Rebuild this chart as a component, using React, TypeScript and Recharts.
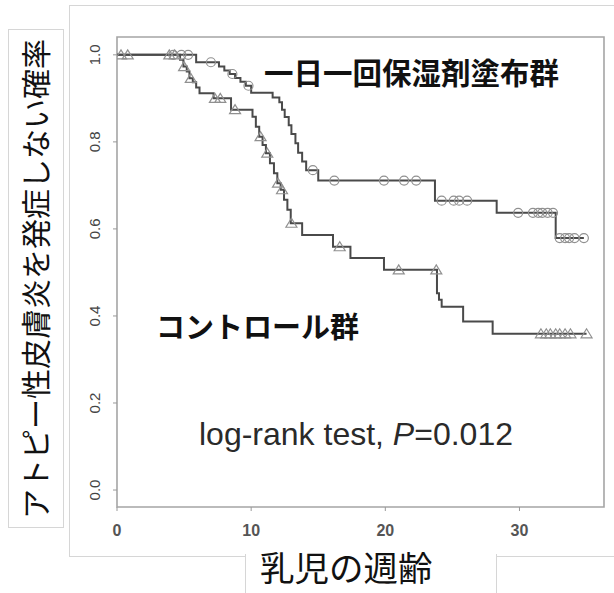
import React from 'react';
import { ComposedChart, Line, Scatter, XAxis, YAxis, ReferenceArea } from 'recharts';

// 一日一回保湿剤塗布群 (event times in weeks, survival after each step)
const treatTimes = [0, 5.9, 7.6, 8.0, 8.4, 8.8, 9.2, 9.6, 10.0, 11.6, 12.1, 12.3, 12.5, 12.8, 13.0, 13.3, 13.5, 13.8, 14.1, 15.0, 23.7, 28.3, 32.7];
const treatSurv = [1.0, 0.983, 0.973, 0.964, 0.956, 0.947, 0.938, 0.929, 0.913, 0.902, 0.891, 0.874, 0.857, 0.838, 0.818, 0.797, 0.775, 0.755, 0.735, 0.711, 0.665, 0.637, 0.579];
const treatEnd = 34.8;
const treatCensor = [4.2, 4.8, 5.3, 7.0, 8.6, 9.8, 14.6, 16.2, 19.9, 21.4, 22.3, 24.2, 25.1, 25.5, 26.1, 29.9, 31.0, 31.4, 31.7, 32.1, 32.5, 33.0, 33.4, 33.7, 34.1, 34.8];

// コントロール群
const ctrlTimes = [0, 4.7, 4.95, 5.2, 5.4, 5.65, 5.9, 6.15, 7.2, 8.5, 10.1, 10.35, 10.6, 10.85, 11.1, 11.4, 11.7, 11.95, 12.2, 12.45, 12.7, 12.95, 13.8, 16.1, 17.4, 19.9, 23.85, 24.0, 24.2, 25.8, 28.0];
const ctrlSurv = [1.0, 0.989, 0.973, 0.962, 0.946, 0.937, 0.925, 0.912, 0.9, 0.874, 0.858, 0.835, 0.812, 0.793, 0.774, 0.751, 0.728, 0.705, 0.69, 0.667, 0.644, 0.613, 0.586, 0.559, 0.533, 0.506, 0.452, 0.437, 0.421, 0.387, 0.359];
const ctrlEnd = 35.0;
const ctrlCensor = [0.3, 0.8, 3.9, 4.3, 5.0, 5.5, 7.3, 7.7, 8.8, 10.7, 11.2, 12.0, 12.3, 13.0, 16.6, 21.0, 23.8, 31.6, 32.0, 32.3, 32.7, 33.0, 33.4, 33.8, 35.0];

const xTicks = [0, 10, 20, 30];
const yTicks = [0, 0.2, 0.4, 0.6, 0.8, 1.0];

const X_MAX = 36.3;
const Y_MIN = -0.039;
const Y_MAX = 1.041;

function stepRows(times: number[], surv: number[], end: number) {
  const rows = times.map((t, i) => ({ t, s: surv[i] }));
  rows.push({ t: end, s: surv[surv.length - 1] });
  return rows;
}

function censorRows(times: number[], surv: number[], cens: number[]) {
  return cens.map((c) => {
    let s = surv[0];
    times.forEach((t, i) => {
      if (t <= c) s = surv[i];
    });
    return { t: c, s };
  });
}

const treatLine = stepRows(treatTimes, treatSurv, treatEnd);
const ctrlLine = stepRows(ctrlTimes, ctrlSurv, ctrlEnd);
const treatMarks = censorRows(treatTimes, treatSurv, treatCensor);
const ctrlMarks = censorRows(ctrlTimes, ctrlSurv, ctrlCensor);

const CircleMark = (p: any) => (
  <circle cx={p.cx} cy={p.cy} r={4.5} fill="none" stroke="#909090" strokeWidth={1.2} />
);

const TriMark = (p: any) => (
  <polygon
    points={`${p.cx},${p.cy - 5} ${p.cx - 5.5},${p.cy + 4} ${p.cx + 5.5},${p.cy + 4}`}
    fill="none"
    stroke="#909090"
    strokeWidth={1.2}
  />
);

const YTick = ({ x, y, payload }: any) => (
  <text
    x={x}
    y={y}
    transform={`rotate(-90, ${x}, ${y})`}
    textAnchor="middle"
    fontFamily="'Liberation Sans', Arial, sans-serif"
    fontSize={15}
    fill="#444"
  >
    {Number(payload.value).toFixed(1)}
  </text>
);

const cjk = "'Noto Sans CJK JP', sans-serif";

export default function App() {
  return (
    <div style={{ position: 'absolute', left: 0, top: 0, width: 614, height: 593, background: '#fff', overflow: 'hidden' }}>
      {/* outer frame */}
      <div style={{ position: 'absolute', left: 69, top: 5, width: 560, height: 550, border: '1px solid #d6d6d6' }} />
      {/* y label box */}
      <div style={{ position: 'absolute', left: 8, top: 29, width: 54, height: 497, border: '1px solid #d6d6d6', background: '#fff' }} />
      {/* x label box */}
      <div style={{ position: 'absolute', left: 245, top: 554, width: 250, height: 60, borderLeft: '1px solid #d6d6d6', borderRight: '1px solid #d6d6d6', background: '#fff' }} />

      <div style={{ position: 'absolute', left: 0, top: 0 }}>
        <ComposedChart width={614} height={593} margin={{ top: 37, right: 10, left: 57, bottom: 56 }}>
          <XAxis
            type="number"
            dataKey="t"
            domain={[0, X_MAX]}
            ticks={xTicks}
            allowDataOverflow
            axisLine={false}
            tickSize={4}
            tickMargin={14}
            height={30}
            tickLine={{ stroke: '#999' }}
            tick={{ fontFamily: "'Liberation Sans', Arial, sans-serif", fontSize: 16, fontWeight: 'bold', fill: '#555' }}
          />
          <YAxis
            type="number"
            dataKey="s"
            domain={[Y_MIN, Y_MAX]}
            ticks={yTicks}
            allowDataOverflow
            axisLine={false}
            width={60}
            tickSize={4}
            tickMargin={13}
            tickLine={{ stroke: '#999' }}
            tick={<YTick />}
          />
          <ReferenceArea x1={0} x2={X_MAX} y1={Y_MIN} y2={Y_MAX} fill="none" stroke="#a5a5a5" strokeWidth={1.6} />
          <Line data={treatLine} dataKey="s" type="stepAfter" stroke="#4a4a4a" strokeWidth={2} dot={false} isAnimationActive={false} />
          <Line data={ctrlLine} dataKey="s" type="stepAfter" stroke="#4a4a4a" strokeWidth={2} dot={false} isAnimationActive={false} />
          <Scatter data={treatMarks} dataKey="s" shape={<CircleMark />} isAnimationActive={false} />
          <Scatter data={ctrlMarks} dataKey="s" shape={<TriMark />} isAnimationActive={false} />
        </ComposedChart>
      </div>

      <svg width={614} height={593} style={{ position: 'absolute', left: 0, top: 0, pointerEvents: 'none' }}>
        <text x={264} y={83.5} fontFamily={cjk} fontSize={29.5} fontWeight="bold" fill="#111">
          一日一回保湿剤塗布群
        </text>
        <text x={156} y={337.5} fontFamily={cjk} fontSize={29} fontWeight="bold" fill="#111">
          コントロール群
        </text>
        <text x={199} y={445} fontFamily="'Liberation Sans', Arial, sans-serif" fontSize={32} fill="#2a2a2a">
          log-rank test, <tspan fontStyle="italic">P</tspan>=0.012
        </text>
        <text x={260} y={581} fontFamily={cjk} fontSize={34.5} fill="#111">
          乳児の週齢
        </text>
        <text transform="translate(47, 519) rotate(-90)" x={0} y={0} fontFamily={cjk} fontSize={30} fill="#111">
          アトピー性皮膚炎を発症しない確率
        </text>
      </svg>
    </div>
  );
}
